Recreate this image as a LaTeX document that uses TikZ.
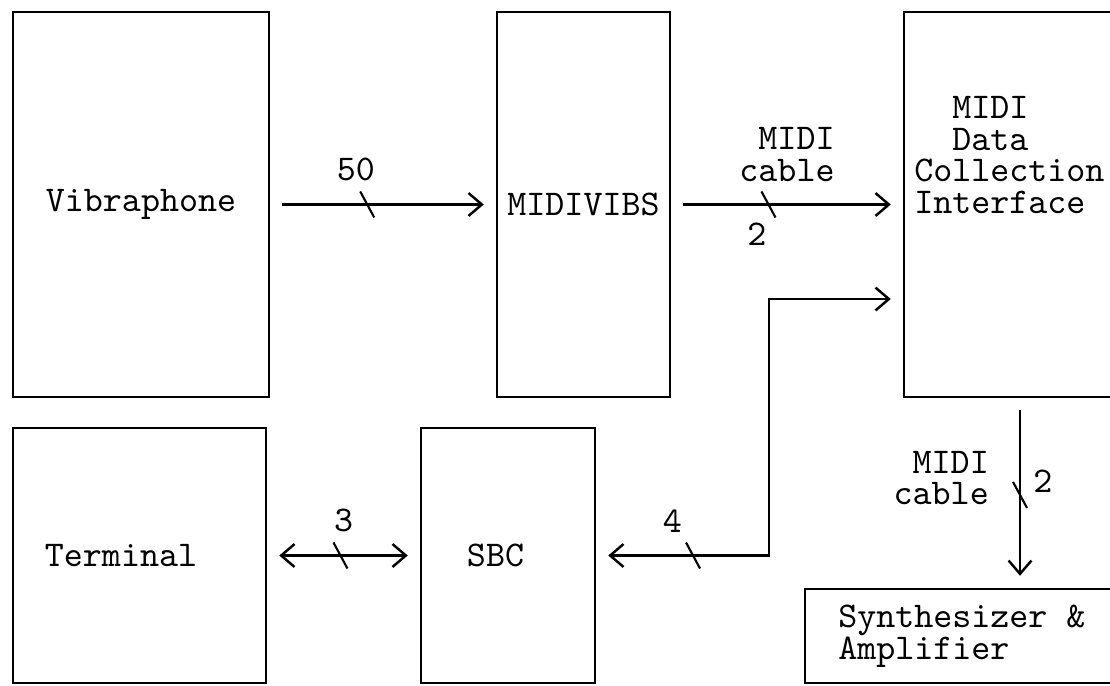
\documentclass[tikz,border=0pt]{standalone}
\usepackage{fontspec}
\usetikzlibrary{arrows.meta,positioning}

\begin{document}
\begin{tikzpicture}[x=0.01cm, y=-0.01cm, line width=0.7pt,
  >={Straight Barb[length=3.8pt,width=6.5pt]},
  font=\ttfamily\fontsize{10.3}{9}\selectfont,
  block/.style={draw, inner sep=0pt},
  txt/.style={inner sep=0pt},
  bus/.style={shorten >=3.4pt, shorten <=3.4pt},
  cut/.pic={\draw[line width=0.6pt] (-7,-13) -- (7,13);}]
\useasboundingbox (0,0) rectangle (1110,685);
\clip (0,0) rectangle (1110,685);
% blocks
\node[block, minimum width=2.56cm, minimum height=3.85cm] (vib) at (141,204.5) {Vibraphone};
\node[block, minimum width=1.73cm, minimum height=3.85cm] (mvibs) at (583.5,204.5) {MIDIVIBS};
\node[block, minimum width=2.32cm, minimum height=3.85cm] (dci) at (1020,204.5) {};
\node[block, minimum width=2.53cm, minimum height=2.55cm] (term) at (139.5,555.5) {};
\node[block, minimum width=1.74cm, minimum height=2.55cm] (sbc) at (508,555.5) {};
\node[block, minimum width=4.30cm, minimum height=0.94cm] (synth) at (1020,636) {};
% block texts
\node[txt, align=left, anchor=south west] (dcitext) at (913,215)
  {\hphantom{Co}MIDI\\\hphantom{Co}Data\\Collection\\Interface};
\node[txt, right=0.32cm of term.west] (termtext) {Terminal};
\node[txt, right=0.46cm of sbc.west] (sbctext) {SBC};
\node[txt, align=left, anchor=west] (synthtext) at (837,636) {Synthesizer \&\\Amplifier};
% connectors
\coordinate (jog) at (769,299);
\draw[->, bus] (vib) -- node[txt, above=0.22cm, pos=0.38] {50} coordinate[pos=0.43] (c50) (mvibs);
\draw[->, bus] (mvibs) -- node[txt, above=0.22cm, align=right] {MIDI\\cable}
  node[txt, below=0.17cm, pos=0.37] {2} coordinate[pos=0.42] (c2a) (dci);
\draw[->, bus] (dci) -- node[txt, left=0.3cm, pos=0.42, align=right] {MIDI\\cable}
  node[txt, right=0.12cm, pos=0.44] {2} coordinate[pos=0.51] (c2b) (synth);
\draw[<->, bus] (term) -- node[txt, above=0.22cm] {3} coordinate[pos=0.48] (c3) (sbc);
\draw[<->, bus] (sbc) -- node[txt, above=0.22cm, pos=0.44] {4} coordinate[pos=0.56] (c4)
  (sbc -| jog) |- (jog -| dci.west);
\foreach \c in {c50,c2a,c2b,c3,c4} \pic at (\c) {cut};
\end{tikzpicture}
\end{document}
